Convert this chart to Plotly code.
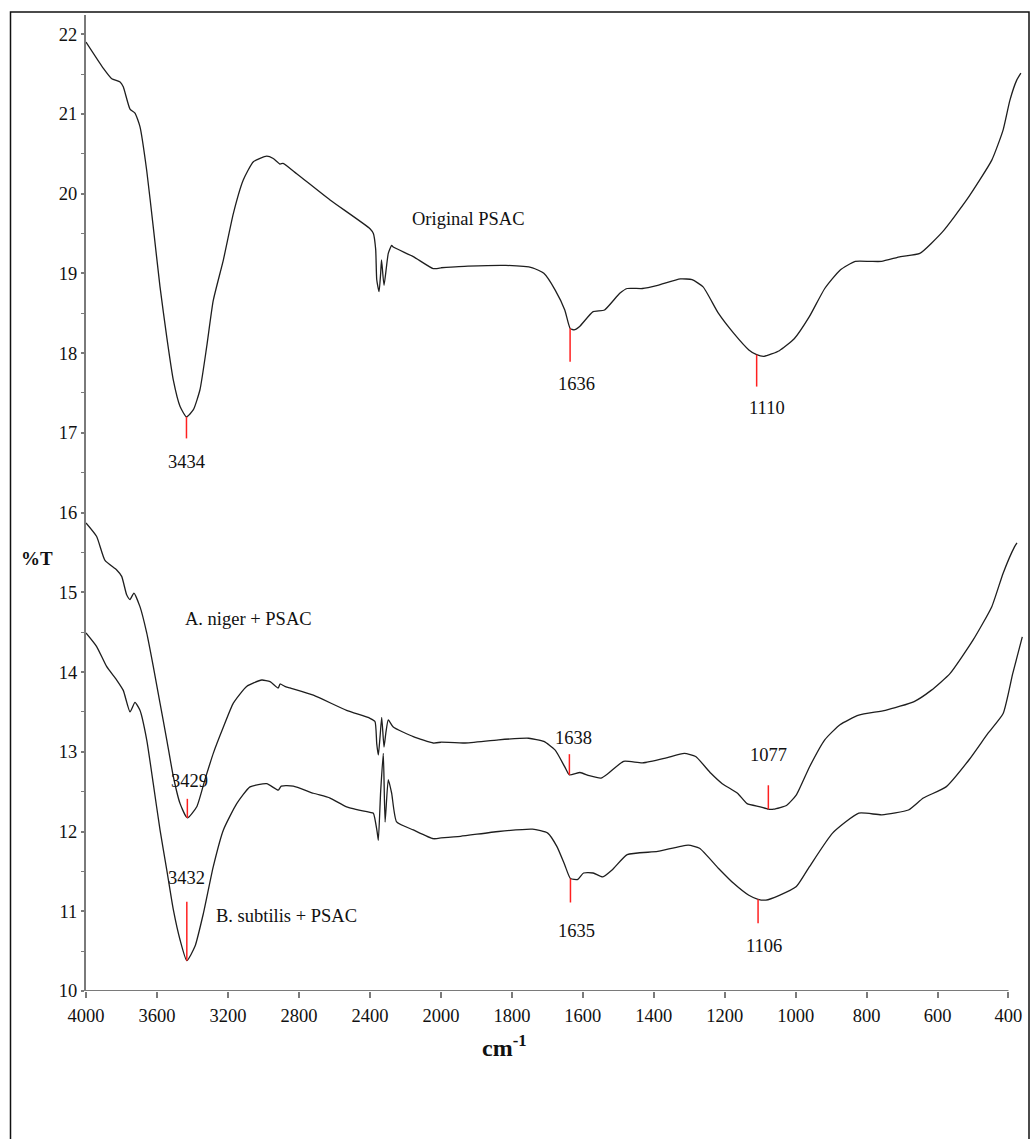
import numpy as np
import plotly.graph_objects as go

# ---------------- spectra (wavenumber, %T) ----------------
orig_wn = [4000, 3902, 3855, 3808, 3790, 3752, 3724, 3696, 3658, 3621, 3583, 3545, 3508, 3470,
           3434, 3395, 3358, 3320, 3283, 3226, 3170, 3114, 3057, 2982, 2945, 2907, 2890, 2813,
           2625, 2400, 2381, 2368, 2362, 2349, 2340, 2335, 2321, 2297, 2278, 2269, 2156, 2044,
           2000, 1924, 1817, 1742, 1710, 1678, 1651, 1636, 1625, 1610, 1571, 1539, 1496, 1475,
           1432, 1389, 1325, 1292, 1261, 1218, 1175, 1132, 1110, 1089, 1046, 1004, 961, 918,
           875, 832, 790, 758, 704, 650, 586, 518, 447, 415, 396, 377, 365]
orig_t = [21.90, 21.57, 21.44, 21.40, 21.34, 21.06, 21.01, 20.84, 20.29, 19.58, 18.83, 18.20, 17.66, 17.33,
          17.20, 17.29, 17.54, 18.08, 18.66, 19.17, 19.75, 20.17, 20.40, 20.47, 20.44, 20.37, 20.38, 20.25,
          19.92, 19.56, 19.50, 19.30, 18.92, 18.77, 19.00, 19.17, 18.85, 19.25, 19.35, 19.33, 19.21, 19.06,
          19.07, 19.09, 19.10, 19.07, 19.00, 18.79, 18.54, 18.31, 18.29, 18.33, 18.52, 18.54, 18.75, 18.81,
          18.81, 18.85, 18.93, 18.92, 18.83, 18.50, 18.25, 18.04, 17.98, 17.96, 18.03, 18.18, 18.46, 18.81,
          19.04, 19.15, 19.15, 19.15, 19.21, 19.25, 19.52, 19.92, 20.42, 20.80, 21.17, 21.42, 21.51]

niger_wn = [4000, 3940, 3893, 3827, 3799, 3771, 3752, 3730, 3696, 3658, 3621, 3583, 3545, 3508,
            3470, 3429, 3376, 3330, 3283, 3226, 3170, 3095, 3010, 2963, 2917, 2907, 2880, 2851,
            2719, 2532, 2400, 2372, 2362, 2353, 2343, 2334, 2321, 2310, 2297, 2269, 2156, 2044,
            2000, 1935, 1838, 1753, 1710, 1678, 1651, 1638, 1608, 1582, 1549, 1528, 1485, 1432,
            1367, 1314, 1282, 1239, 1207, 1164, 1137, 1100, 1077, 1062, 1025, 998, 961, 918,
            875, 822, 747, 666, 618, 565, 500, 447, 415, 383, 376]
niger_t = [15.87, 15.70, 15.40, 15.28, 15.20, 14.97, 14.91, 14.99, 14.82, 14.49, 14.07, 13.61, 13.15, 12.69,
           12.35, 12.17, 12.31, 12.65, 12.98, 13.31, 13.61, 13.82, 13.90, 13.88, 13.80, 13.85, 13.82, 13.80,
           13.71, 13.52, 13.42, 13.38, 13.10, 12.96, 13.20, 13.43, 13.06, 13.25, 13.40, 13.31, 13.19, 13.11,
           13.12, 13.11, 13.15, 13.17, 13.13, 13.02, 12.81, 12.71, 12.74, 12.70, 12.67, 12.73, 12.88, 12.86,
           12.92, 12.98, 12.94, 12.73, 12.60, 12.48, 12.35, 12.31, 12.28, 12.28, 12.33, 12.46, 12.81, 13.15,
           13.34, 13.46, 13.52, 13.63, 13.77, 13.98, 14.40, 14.82, 15.24, 15.57, 15.62]

subtilis_wn = [4000, 3940, 3884, 3827, 3790, 3752, 3724, 3696, 3658, 3621, 3583, 3545, 3508, 3470,
               3432, 3386, 3339, 3283, 3226, 3151, 3076, 2982, 2917, 2900, 2832, 2719, 2625, 2532,
               2400, 2381, 2360, 2353, 2340, 2325, 2315, 2297, 2278, 2250, 2156, 2044,
               2000, 1945, 1838, 1742, 1699, 1673, 1651, 1635, 1614, 1598, 1571, 1544, 1517, 1475,
               1389, 1303, 1271, 1218, 1175, 1132, 1106, 1084, 1046, 998, 961, 896, 822, 757,
               682, 640, 576, 511, 458, 415, 388, 361]
subtilis_t = [14.49, 14.32, 14.07, 13.90, 13.77, 13.50, 13.62, 13.52, 13.15, 12.60, 12.02, 11.52, 11.02, 10.64,
              10.38, 10.56, 10.97, 11.56, 12.02, 12.35, 12.56, 12.60, 12.52, 12.57, 12.57, 12.48, 12.42, 12.31,
              12.24, 12.23, 12.00, 11.89, 12.50, 12.98, 12.12, 12.65, 12.48, 12.12, 12.02, 11.91,
              11.92, 11.94, 12.00, 12.03, 11.98, 11.81, 11.58, 11.41, 11.40, 11.48, 11.48, 11.43, 11.52, 11.71,
              11.75, 11.83, 11.79, 11.54, 11.35, 11.20, 11.15, 11.14, 11.20, 11.31, 11.56, 11.98, 12.23, 12.21,
              12.27, 12.42, 12.56, 12.90, 13.23, 13.48, 13.98, 14.44]

series_names = ["Original PSAC", "A. niger + PSAC", "B. subtilis + PSAC"]

# labelled band positions (cm-1) for each spectrum
orig_peaks = [3434, 1636, 1110]
niger_peaks = [3429, 1638, 1077]
subtilis_peaks = [3432, 1635, 1106]

# axis ticks
x_ticks_high = [4000, 3600, 3200, 2800, 2400]
x_ticks_low = [2000, 1800, 1600, 1400, 1200, 1000, 800, 600, 400]
y_ticks = list(range(10, 23))

# ---------------- layout geometry ----------------
W, H = 1030, 1139
ML, MR, MT, MB = 86, 7, 15, 148
PW, PH = W - ML - MR, H - MT - MB
SPLIT = 2000            # wavenumber where the axis scale changes
X_HIGH = (4000, 2000)
X_LOW = (2000, 359)
# the 4000-2000 region is drawn at half the scale of the 2000-400 region
px_high = (X_HIGH[0] - X_HIGH[1]) * 0.1775
D = px_high / PW
Y_RANGE = (10, 22.24)


def px(xp):
    return (xp - ML) / PW


def py(yp):
    return (H - MB - yp) / PH


def xref_for(wn):
    return "x" if wn > SPLIT else "x2"


LINE = "#1e1e1e"
RED = "#ff2020"
AXIS = "#7a7a7a"
FONT = "Liberation Serif"

fig = go.Figure()

for wn, t, name in [(orig_wn, orig_t, series_names[0]),
                    (niger_wn, niger_t, series_names[1]),
                    (subtilis_wn, subtilis_t, series_names[2])]:
    wn = np.array(wn, dtype=float)
    t = np.array(t, dtype=float)
    hi = wn >= SPLIT
    lo = wn <= SPLIT
    for mask, xa in [(hi, "x"), (lo, "x2")]:
        fig.add_trace(go.Scatter(x=wn[mask], y=t[mask], mode="lines", name=name, xaxis=xa, yaxis="y",
                                 line=dict(color=LINE, width=1.3, shape="spline", smoothing=0.5),
                                 showlegend=False))

shapes = []
annotations = []


def curve_value(wn_list, t_list, x):
    return float(np.interp(x, wn_list[::-1], t_list[::-1]))


# peak markers: per band -> (tick direction, tick length, gap to label, label x shift px), in %T units
marker_specs = [
    (orig_wn, orig_t, orig_peaks, [(-1, 0.27, 0.30, 0), (-1, 0.42, 0.28, 6), (-1, 0.40, 0.27, 10)]),
    (niger_wn, niger_t, niger_peaks, [(+1, 0.24, 0.22, 2), (+1, 0.26, 0.20, 4), (+1, 0.30, 0.38, 0)]),
    (subtilis_wn, subtilis_t, subtilis_peaks, [(+1, 0.74, 0.30, 0), (-1, 0.30, 0.36, 6), (-1, 0.30, 0.28, 6)]),
]
for wn_l, t_l, peaks, styles in marker_specs:
    for p, (d, ln, off, dx) in zip(peaks, styles):
        y0 = curve_value(wn_l, t_l, p)
        y1 = y0 + d * ln
        shapes.append(dict(type="line", xref=xref_for(p), yref="y", x0=p, x1=p, y0=y0, y1=y1,
                           line=dict(color=RED, width=1.5)))
        annotations.append(dict(x=p, y=y1 + d * off, xref=xref_for(p), yref="y", text=str(p),
                                showarrow=False, xanchor="center", yanchor="middle", xshift=dx,
                                font=dict(family=FONT, size=18.5, color="#111")))

# spectrum captions
for text, xx, yy in [(series_names[0], 468, 219), (series_names[1], 248, 619), (series_names[2], 286, 916)]:
    annotations.append(dict(x=px(xx), y=py(yy), xref="paper", yref="paper", text=text, showarrow=False,
                            xanchor="center", yanchor="middle",
                            font=dict(family=FONT, size=18.5, color="#111")))

# axis titles
annotations.append(dict(x=px(37), y=py(558), xref="paper", yref="paper", text="<b>%T</b>", showarrow=False,
                        xanchor="center", yanchor="middle", font=dict(family=FONT, size=19, color="#111")))
annotations.append(dict(x=px(504), y=py(1046), xref="paper", yref="paper", text="<b>cm<sup>-1</sup></b>",
                        showarrow=False, xanchor="center", yanchor="middle",
                        font=dict(family=FONT, size=24, color="#111")))

# x axis baseline (stops at 400 cm-1)
shapes.append(dict(type="line", xref="x", yref="y", x0=4000, x1=SPLIT, y0=10, y1=10,
                   line=dict(color=AXIS, width=2)))
shapes.append(dict(type="line", xref="x2", yref="y", x0=SPLIT, x1=400, y0=10, y1=10,
                   line=dict(color=AXIS, width=2)))
# outer frame
shapes.append(dict(type="rect", xref="paper", yref="paper", x0=px(10.5), x1=px(1029), y0=py(1145), y1=py(12),
                   line=dict(color="#111", width=1.5), fillcolor="rgba(0,0,0,0)", layer="above"))

tick_font = dict(family=FONT, size=18.5, color="#111")
xcommon = dict(showgrid=False, zeroline=False, showline=False, ticks="outside", ticklen=6, tickwidth=1.5,
               tickcolor=AXIS, tickfont=tick_font, anchor="y", fixedrange=True, ticklabelstandoff=2)

fig.update_layout(
    width=W, height=H,
    margin=dict(l=ML, r=MR, t=MT, b=MB),
    paper_bgcolor="white", plot_bgcolor="white",
    xaxis=dict(domain=[0, D], range=list(X_HIGH), tickvals=x_ticks_high,
               ticktext=[str(v) for v in x_ticks_high], **xcommon),
    xaxis2=dict(domain=[D, 1], range=list(X_LOW), tickvals=x_ticks_low,
                ticktext=[str(v) for v in x_ticks_low], **xcommon),
    yaxis=dict(domain=[0, 1], range=list(Y_RANGE), tickvals=y_ticks, showgrid=False, zeroline=False,
               showline=True, linecolor=AXIS, linewidth=2, ticks="outside", ticklen=3, tickwidth=1.5,
               tickcolor=AXIS, tickfont=tick_font, anchor="x",
               minor=dict(dtick=0.5, ticks="outside", ticklen=3, tickwidth=1.2, tickcolor=AXIS)),
    shapes=shapes,
    annotations=annotations,
    showlegend=False,
)

fig.write_html("out.html")
